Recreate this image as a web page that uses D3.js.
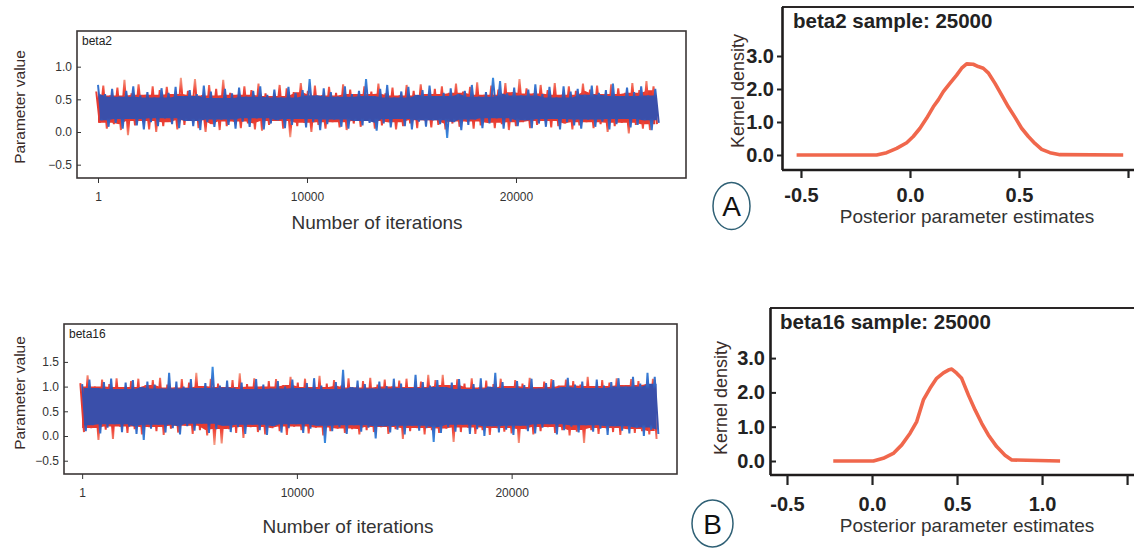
<!DOCTYPE html>
<html>
<head>
<meta charset="utf-8">
<script src="https://cdn.jsdelivr.net/npm/d3@7"></script>
<style>
    body { margin: 0; background: #fff; }
    svg { display: block; font-family: "Liberation Sans", Arial, sans-serif; }
</style>
</head>
<body>
<div id="chart"></div>
<script>
// trace plots: per-bin extremes of each chain (bins of 337.5 iterations)
const binSize = 337.5;
const traceTicks = [1, 10000, 20000];

const blueHiA = [0.72,0.58,0.66,0.54,0.63,0.70,0.56,0.61,0.53,0.67, 0.60,0.69,0.55,0.64,0.58,0.71,0.62,0.52,0.66,0.59,
    0.68,0.54,0.63,0.70,0.57,0.65,0.53,0.69,0.60,0.64, 0.81,0.56,0.67,0.61,0.54,0.70,0.58,0.63,0.81,0.55,
    0.66,0.72,0.53,0.62,0.69,0.57,0.64,0.71,0.55,0.60, 0.67,0.58,0.63,0.72,0.54,0.61,0.83,0.78,0.59,0.68,
    0.56,0.65,0.73,0.58,0.69,0.53,0.70,0.62,0.66,0.57, 0.71,0.60,0.64,0.74,0.55,0.68,0.61,0.70,0.56,0.66];
const blueLoA = [0.18,0.08,0.14,0.05,0.20,0.10,0.04,0.15,0.09,0.21, 0.12,0.06,0.17,0.09,0.03,0.15,0.08,0.19,0.11,0.05,
    0.16,0.08,0.21,0.04,0.13,0.18,0.06,0.11,0.20,0.07, 0.15,0.03,0.12,0.19,0.08,0.05,0.17,0.10,0.14,0.02,
    0.13,0.07,0.20,0.09,0.04,0.16,0.08,0.18,0.12,-0.09, 0.15,0.03,0.11,0.19,0.06,0.13,0.21,0.05,0.16,0.09,
    0.18,0.06,0.13,0.08,0.20,0.04,0.15,0.10,0.05,0.19, 0.08,0.16,0.04,0.12,0.20,0.07,0.11,0.18,0.03,0.14];
const redHiA = [0.62,0.71,0.56,0.68,0.80,0.59,0.73,0.57,0.70,0.64, 0.69,0.58,0.83,0.63,0.81,0.56,0.72,0.66,0.80,0.60,
    0.57,0.70,0.64,0.74,0.59,0.55,0.72,0.67,0.61,0.75, 0.63,0.71,0.56,0.69,0.60,0.73,0.65,0.58,0.70,0.62,
    0.74,0.59,0.68,0.56,0.72,0.63,0.73,0.58,0.66,0.70, 0.60,0.74,0.62,0.69,0.76,0.57,0.71,0.65,0.75,0.61,
    0.81,0.67,0.59,0.72,0.64,0.75,0.57,0.70,0.63,0.74, 0.65,0.71,0.58,0.73,0.67,0.60,0.75,0.64,0.78,0.70];
const redLoA = [0.14,0.05,0.12,0.03,-0.05,0.10,0.17,0.04,0.00,0.09, 0.15,0.04,0.11,0.18,0.06,0.00,0.12,0.03,0.09,0.16,
    0.06,0.13,0.04,0.02,0.11,0.17,0.05,-0.08,0.09,0.14, 0.00,0.11,0.05,0.15,0.07,0.03,0.13,0.08,0.17,0.05,
    0.10,0.15,0.04,0.09,0.13,0.06,0.18,0.07,0.11,0.04, 0.13,0.08,0.16,0.05,0.10,0.14,0.06,0.12,0.03,0.09,
    0.15,0.06,0.11,0.17,0.07,0.09,0.13,0.04,0.10,0.15, 0.06,0.12,0.00,0.09,0.14,-0.02,0.11,0.05,0.03,0.12];

const blueHiB = [1.05,1.14,0.97,1.09,1.16,0.95,1.08,1.13,0.99,1.10, 1.04,0.96,1.28,1.10,1.00,1.15,0.97,1.07,1.40,1.02,
    1.12,0.98,1.08,0.95,1.15,1.04,0.96,1.11,1.00,1.14, 0.97,1.07,1.17,1.02,0.95,1.09,1.34,0.99,1.12,1.05,
    0.96,1.10,1.01,1.16,1.06,0.97,1.24,1.09,1.02,1.13, 0.99,1.08,1.15,0.95,1.05,1.17,1.00,1.28,1.09,0.97,
    1.11,1.03,1.16,0.96,1.07,1.13,0.99,1.18,1.04,1.10, 0.97,1.14,1.02,1.09,1.17,1.00,1.20,1.06,1.28,1.20];
const blueLoB = [0.10,0.22,0.05,0.17,0.24,0.08,0.19,0.04,-0.08,0.15, 0.23,0.07,0.16,0.03,0.20,0.11,0.25,0.06,0.14,0.21,
    0.08,0.18,0.04,0.23,0.12,0.02,0.20,0.07,0.16,0.24, 0.06,0.15,0.21,-0.14,0.10,0.18,0.04,0.22,0.09,0.17,
    -0.05,0.20,0.07,0.13,0.03,0.21,0.11,0.16,-0.12,0.06, 0.18,0.09,0.23,0.04,0.14,0.00,0.20,0.07,0.13,0.02,
    0.21,0.10,0.05,0.17,0.24,0.03,0.12,0.19,0.07,0.22, 0.09,0.15,0.02,0.20,0.11,0.05,0.17,0.00,0.13,0.04];
const redHiB = [1.07,1.23,1.00,1.14,1.05,1.17,0.99,1.11,1.16,1.03, 1.13,1.18,1.04,0.98,1.15,1.08,1.28,1.01,1.16,1.06,
    0.99,1.13,1.27,1.05,1.17,1.00,1.11,1.15,1.03,1.20, 1.08,1.16,0.99,1.22,1.06,1.13,1.02,1.17,0.98,1.11,
    1.18,1.04,1.14,1.00,1.12,1.16,0.99,1.10,1.24,1.13, 1.24,1.03,1.15,1.06,1.17,0.98,1.12,1.05,1.16,1.01,
    1.13,1.06,1.18,0.99,1.10,1.15,1.02,1.14,1.11,1.04, 1.20,1.01,1.13,1.08,1.17,1.03,1.15,1.11,1.05,1.16];
const redLoB = [0.08,0.16,-0.08,0.13,-0.06,0.19,0.06,0.14,0.03,0.18, 0.10,0.02,0.15,0.07,0.21,0.04,0.12,0.01,-0.18,-0.15,
    0.14,0.06,-0.04,0.18,0.08,0.03,0.16,0.10,0.02,0.19, 0.12,0.05,0.17,0.01,0.10,0.15,0.06,0.14,0.03,0.12,
    0.08,0.18,0.04,0.14,-0.06,0.10,0.16,0.03,0.12,0.06, 0.15,-0.12,0.08,0.17,0.04,0.12,0.02,0.16,0.09,0.05,
    -0.14,0.14,0.03,0.10,0.18,0.06,0.12,0.01,0.09,-0.14, 0.12,0.04,0.16,0.08,0.02,0.14,0.06,0.10,0.03,-0.06];

// kernel density curves
const densA_x = [-0.52,-0.153,-0.107,-0.061,-0.015,0.015,0.046,0.076,0.107,0.130,0.153,0.183,0.214,0.237,0.26,0.29,
    0.313,0.336,0.359,0.39,0.42,0.451,0.482,0.512,0.543,0.573,0.604,0.642,0.688,0.978];
const densA_y = [0,0,0.07,0.20,0.37,0.56,0.81,1.11,1.46,1.67,1.92,2.17,2.42,2.63,2.76,2.75,
    2.68,2.63,2.49,2.17,1.82,1.46,1.14,0.81,0.56,0.35,0.17,0.07,0.01,0];
const densB_x = [-0.228,0.008,0.066,0.125,0.175,0.224,0.263,0.302,0.341,0.380,0.42,0.449,0.469,0.498,0.527,
    0.567,0.606,0.645,0.684,0.733,0.782,0.822,1.106];
const densB_y = [0,0,0.08,0.22,0.47,0.81,1.15,1.78,2.12,2.41,2.57,2.65,2.68,2.56,2.41,
    1.92,1.49,1.10,0.76,0.42,0.17,0.03,0];

const traceYTicksA = [-0.5, 0, 0.5, 1.0];
const traceYTicksB = [-0.5, 0, 0.5, 1.0, 1.5];
const densYTicks = [0, 1, 2, 3];
const densXTicksA = [-0.5, 0, 0.5, 1.0];
const densXLabelsA = ["-0.5", "0.0", "0.5", ""];
const densXTicksB = [-0.5, 0, 0.5, 1.0, 1.5];
const densXLabelsB = ["-0.5", "0.0", "0.5", "1.0", ""];

const width = 1134, height = 548;
const svg = d3.select("#chart").append("svg")
    .attr("width", width)
    .attr("height", height);
const defs = svg.append("defs");

const chainColors = {
    red: { tip: "#f5a088", mid: "#f0483a", core: "#e63a30" },
    blue: { tip: "#3a8ce0", mid: "#3466c4", core: "#3a4faa" }
};

function drawTrace(cfg) {
    const x = d3.scaleLinear().domain(cfg.xDomain).range([cfg.left, cfg.right]);
    const y = d3.scaleLinear().domain(cfg.yDomain).range([cfg.bottom, cfg.top]);
    const g = svg.append("g");

    cfg.chains.forEach((ch, k) => {
        const col = chainColors[ch.color];
        const n = ch.hi.length;

        // dense middle of the chain: the band every nearby bin covers
        const core = d3.range(n).map(i => {
            const nb = d3.range(i - 2, i + 3).filter(j => j >= 0 && j < n);
            return {
                it: 1 + i * binSize + ch.phase + binSize / 4,
                top: d3.min(nb, j => ch.hi[j]),
                bot: d3.max(nb, j => ch.lo[j])
            };
        });

        const hiMax = d3.max(ch.hi), loMin = d3.min(ch.lo);
        const coreTop = d3.mean(core, d => d.top), coreBot = d3.mean(core, d => d.bot);
        const off = v => Math.max(0, Math.min(1, (y(v) - y(hiMax)) / (y(loMin) - y(hiMax))));
        const gid = "grad-" + cfg.id + "-" + k;
        const grad = defs.append("linearGradient").attr("id", gid)
            .attr("gradientUnits", "userSpaceOnUse")
            .attr("x1", 0).attr("x2", 0)
            .attr("y1", y(hiMax)).attr("y2", y(loMin));
        [[0, col.tip], [off(coreTop + 0.06), col.mid], [off(coreTop - 0.02), col.core],
         [off(coreBot + 0.02), col.core], [off(coreBot - 0.06), col.mid], [1, col.tip]].forEach(s => {
            grad.append("stop").attr("offset", s[0]).attr("stop-color", s[1]);
        });

        g.append("path")
            .datum(core)
            .attr("fill", col.core)
            .attr("d", d3.area().x(d => x(d.it)).y0(d => y(d.bot)).y1(d => y(d.top)));

        const pts = [];
        ch.hi.forEach((v, i) => {
            pts.push([1 + i * binSize + ch.phase, v]);
            pts.push([1 + i * binSize + ch.phase + binSize / 2, ch.lo[i]]);
        });
        g.append("path")
            .datum(pts)
            .attr("fill", "none")
            .attr("stroke", "url(#" + gid + ")")
            .attr("stroke-width", 2)
            .attr("d", d3.line().x(d => x(d[0])).y(d => y(d[1])));
    });

    // frame
    g.append("rect")
        .attr("x", cfg.left).attr("y", cfg.top)
        .attr("width", cfg.right - cfg.left).attr("height", cfg.bottom - cfg.top)
        .attr("fill", "none").attr("stroke", "#3b3636").attr("stroke-width", 1.6);

    const ya = g.append("g")
        .attr("transform", "translate(" + cfg.left + ",0)")
        .call(d3.axisLeft(y).tickValues(cfg.yTicks).tickFormat(d3.format(".1f")).tickSize(-4).tickPadding(5));
    ya.select(".domain").remove();
    ya.selectAll("line").attr("stroke", "#333");
    ya.selectAll("text").attr("font-size", 12).attr("fill", "#333").attr("font-family", null);

    const xa = g.append("g")
        .attr("transform", "translate(0," + cfg.bottom + ")")
        .call(d3.axisBottom(x).tickValues(traceTicks).tickFormat(d3.format("d")).tickSize(5).tickPadding(9));
    xa.select(".domain").remove();
    xa.selectAll("line").attr("stroke", "#333");
    xa.selectAll("text").attr("font-size", 12).attr("fill", "#333").attr("font-family", null);

    g.append("text")
        .attr("x", cfg.left + 5).attr("y", cfg.top + 14)
        .attr("font-size", 12).attr("fill", "#222")
        .text(cfg.name);

    g.append("text")
        .attr("transform", "translate(25," + cfg.yLabelY + ") rotate(-90)")
        .attr("text-anchor", "middle")
        .attr("font-size", 15.5).attr("fill", "#3a2c2a")
        .text("Parameter value");

    g.append("text")
        .attr("x", cfg.xLabelX).attr("y", cfg.xLabelY)
        .attr("text-anchor", "middle")
        .attr("font-size", 19).attr("fill", "#333")
        .text("Number of iterations");
}

function drawDensity(cfg) {
    const x = d3.scaleLinear().domain(cfg.xDomain).range([cfg.left, cfg.right]);
    const y = d3.scaleLinear().domain(cfg.yDomain).range([cfg.bottom, cfg.top]);
    const g = svg.append("g");

    const pts = cfg.xs.map((v, i) => [v, cfg.ys[i]]);
    g.append("path")
        .datum(pts)
        .attr("fill", "none")
        .attr("stroke", "#f0674c")
        .attr("stroke-width", 3.6)
        .attr("stroke-linejoin", "round")
        .attr("d", d3.line().x(d => x(d[0])).y(d => y(d[1])));

    // frame: top border runs off the right edge
    g.append("line")
        .attr("x1", cfg.left).attr("x2", width + 10)
        .attr("y1", cfg.top).attr("y2", cfg.top)
        .attr("stroke", "#2a2626").attr("stroke-width", 2);

    const ya = g.append("g")
        .attr("transform", "translate(" + cfg.left + ",0)")
        .call(d3.axisLeft(y).tickValues(densYTicks).tickFormat(d3.format(".1f"))
            .tickSize(cfg.yTickSize).tickPadding(cfg.yTickPad));
    ya.select(".domain").attr("stroke", "#1f1c1c").attr("stroke-width", 2.6)
        .attr("d", "M0.5," + cfg.top + "V" + cfg.bottom);
    ya.selectAll("line").attr("stroke", "#222").attr("stroke-width", 2);
    ya.selectAll("text").attr("font-size", 20).attr("font-weight", "bold").attr("fill", "#222").attr("font-family", null);

    const xa = g.append("g")
        .attr("transform", "translate(0," + cfg.bottom + ")")
        .call(d3.axisBottom(x).tickValues(cfg.xTicks).tickFormat((d, i) => cfg.xLabels[i])
            .tickSize(cfg.xTickSize).tickPadding(cfg.xTickPad));
    xa.select(".domain").attr("stroke", "#1f1c1c").attr("stroke-width", 2.6)
        .attr("d", "M" + cfg.left + ",0H" + (width + 10));
    xa.selectAll("line").attr("stroke", "#222").attr("stroke-width", 2.2);
    xa.selectAll("text").attr("font-size", 20).attr("font-weight", "bold").attr("fill", "#222").attr("font-family", null);

    g.append("text")
        .attr("x", cfg.titleX).attr("y", cfg.titleY)
        .attr("font-size", 20.5).attr("font-weight", "bold").attr("fill", "#222")
        .text(cfg.title);

    g.append("text")
        .attr("transform", "translate(" + cfg.yLabelX + "," + cfg.yLabelY + ") rotate(-90)")
        .attr("text-anchor", "middle")
        .attr("font-size", 18).attr("fill", "#3a2c2a")
        .text("Kernel density");

    g.append("text")
        .attr("x", 967).attr("y", cfg.xLabelY)
        .attr("text-anchor", "middle")
        .attr("font-size", 19).attr("fill", "#333")
        .text("Posterior parameter estimates");

    g.append("ellipse")
        .attr("cx", cfg.tagX).attr("cy", cfg.tagY)
        .attr("rx", cfg.tagRx).attr("ry", cfg.tagRy)
        .attr("fill", "none").attr("stroke", "#2f6075").attr("stroke-width", 1.5);
    g.append("text")
        .attr("x", cfg.tagX).attr("y", cfg.tagY + 10)
        .attr("text-anchor", "middle")
        .attr("font-size", 28).attr("fill", "#111")
        .text(cfg.tag);
}

drawTrace({
    id: "a", name: "beta2",
    left: 77, right: 686, top: 31, bottom: 178,
    xDomain: [-1004, 28134], yDomain: [-0.704, 1.546],
    yTicks: traceYTicksA,
    chains: [{ color: "red", hi: redHiA, lo: redLoA, phase: -binSize / 4 },
             { color: "blue", hi: blueHiA, lo: blueLoA, phase: 0 }],
    yLabelY: 107, xLabelX: 377, xLabelY: 229
});

drawTrace({
    id: "b", name: "beta16",
    left: 64, right: 677, top: 324, bottom: 474,
    xDomain: [-844, 27700], yDomain: [-0.769, 2.267],
    yTicks: traceYTicksB,
    chains: [{ color: "red", hi: redHiB, lo: redLoB, phase: -binSize / 4 },
             { color: "blue", hi: blueHiB, lo: blueLoB, phase: 0 }],
    yLabelY: 393, xLabelX: 348, xLabelY: 533
});

drawDensity({
    title: "beta2 sample: 25000", titleX: 793, titleY: 28,
    left: 782, right: 1140, top: 7, bottom: 170,
    xDomain: [-0.587, 1.055], yDomain: [-0.455, 4.485],
    xs: densA_x, ys: densA_y,
    xTicks: densXTicksA, xLabels: densXLabelsA,
    xTickSize: 8, xTickPad: 10, yTickSize: 5, yTickPad: 3,
    yLabelX: 744, yLabelY: 91, xLabelY: 223,
    tag: "A", tagX: 731.5, tagY: 206, tagRx: 18.5, tagRy: 23.5
});

drawDensity({
    title: "beta16 sample: 25000", titleX: 780, titleY: 329,
    left: 770, right: 1140, top: 308, bottom: 475,
    xDomain: [-0.6, 1.576], yDomain: [-0.408, 4.46],
    xs: densB_x, ys: densB_y,
    xTicks: densXTicksB, xLabels: densXLabelsB,
    xTickSize: 10, xTickPad: 12, yTickSize: -6, yTickPad: 5,
    yLabelX: 727, yLabelY: 398, xLabelY: 532,
    tag: "B", tagX: 712.5, tagY: 523.5, tagRx: 20.5, tagRy: 23.5
});
</script>
</body>
</html>
